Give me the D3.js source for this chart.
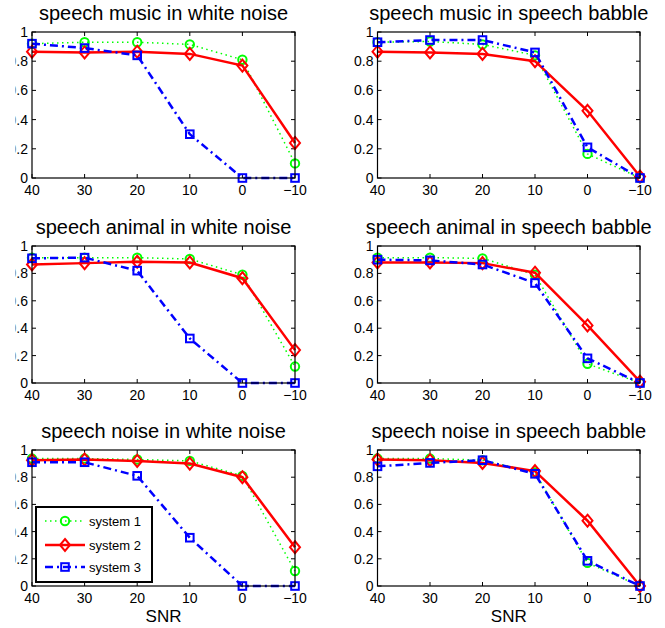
<!DOCTYPE html>
<html>
<head>
<meta charset="utf-8">
<script src="https://cdn.jsdelivr.net/npm/d3@7"></script>
<style>
  body { margin: 0; background: #fff; }
  svg { display: block; font-family: "Liberation Sans", Arial, sans-serif; }
</style>
</head>
<body>
<div id="chart"></div>
<script>
// x axis values (SNR), drawn from 40 down to -10
var snr = [40, 30, 20, 10, 0, -10];
var yTicks = [0, 0.2, 0.4, 0.6, 0.8, 1];
var titles = [
    "speech music in white noise", "speech music in speech babble",
    "speech animal in white noise", "speech animal in speech babble",
    "speech noise in white noise", "speech noise in speech babble"
];
var seriesNames = ["system 1", "system 2", "system 3"];

// one row per panel, same order as titles
var system1 = [
    [0.92, 0.93, 0.93, 0.915, 0.81, 0.10],
    [0.93, 0.935, 0.915, 0.84, 0.165, 0.0],
    [0.915, 0.915, 0.915, 0.905, 0.79, 0.12],
    [0.915, 0.915, 0.91, 0.79, 0.14, 0.0],
    [0.937, 0.937, 0.93, 0.92, 0.81, 0.11],
    [0.937, 0.937, 0.925, 0.835, 0.17, 0.0]
];
var system2 = [
    [0.865, 0.86, 0.865, 0.85, 0.77, 0.24],
    [0.865, 0.86, 0.85, 0.80, 0.46, 0.01],
    [0.865, 0.875, 0.885, 0.88, 0.765, 0.24],
    [0.88, 0.88, 0.875, 0.805, 0.42, 0.01],
    [0.925, 0.93, 0.92, 0.90, 0.80, 0.285],
    [0.93, 0.925, 0.905, 0.845, 0.48, 0.0]
];
var system3 = [
    [0.92, 0.89, 0.84, 0.30, 0.0, 0.0],
    [0.93, 0.945, 0.945, 0.86, 0.21, 0.0],
    [0.91, 0.915, 0.82, 0.325, 0.0, 0.0],
    [0.90, 0.895, 0.865, 0.73, 0.18, 0.0],
    [0.91, 0.91, 0.81, 0.355, 0.0, 0.0],
    [0.88, 0.905, 0.925, 0.825, 0.185, 0.0]
];

var width = 665, height = 628;
var cols = [[32, 295], [377.5, 640]];
var rows = [[32, 178], [246, 383], [450, 586]];

var styles = [
    { color: "#00ff00", dash: "1.5,3.5", width: 1.5, marker: "circle" },
    { color: "#ff0000", dash: null, width: 2.5, marker: "diamond" },
    { color: "#0000ff", dash: "8,4,2,4", width: 2.5, marker: "square" }
];

var svg = d3.select("#chart").append("svg")
    .attr("width", width)
    .attr("height", height);

// the figure was cropped on the left, so the first digit of the left labels is lost
svg.append("clipPath").attr("id", "leftcrop")
    .append("rect").attr("x", 15.5).attr("y", 0).attr("width", width).attr("height", height);

function drawMarker(g, type, x, y, color) {
    if (type == "circle") {
        g.append("circle").attr("cx", x).attr("cy", y).attr("r", 4.2)
            .attr("fill", "none").attr("stroke", color).attr("stroke-width", 2);
    } else if (type == "diamond") {
        g.append("path")
            .attr("d", "M" + x + "," + (y - 6) + "L" + (x + 5) + "," + y +
                "L" + x + "," + (y + 6) + "L" + (x - 5) + "," + y + "Z")
            .attr("fill", "none").attr("stroke", color).attr("stroke-width", 2);
    } else {
        g.append("rect").attr("x", x - 3.8).attr("y", y - 3.8)
            .attr("width", 7.6).attr("height", 7.6)
            .attr("fill", "none").attr("stroke", color).attr("stroke-width", 2);
    }
}

titles.forEach(function (title, p) {
    var c = cols[p % 2], r = rows[Math.floor(p / 2)];
    var x = d3.scaleLinear().domain([40, -10]).range(c);
    var y = d3.scaleLinear().domain([0, 1]).range([r[1], r[0]]);
    var g = svg.append("g");
    var yLab = g.append("g");
    if (p % 2 == 0) yLab.attr("clip-path", "url(#leftcrop)");

    // ticks inside the box, on all four sides
    snr.forEach(function (t) {
        g.append("line").attr("x1", x(t)).attr("x2", x(t))
            .attr("y1", r[1]).attr("y2", r[1] - 4).attr("stroke", "#000");
        g.append("line").attr("x1", x(t)).attr("x2", x(t))
            .attr("y1", r[0]).attr("y2", r[0] + 4).attr("stroke", "#000");
        g.append("text").attr("x", x(t)).attr("y", r[1] + 17)
            .attr("text-anchor", "middle").attr("font-size", 14)
            .text(t < 0 ? "\u2212" + Math.abs(t) : t);
    });
    yTicks.forEach(function (t) {
        g.append("line").attr("x1", c[0]).attr("x2", c[0] + 4)
            .attr("y1", y(t)).attr("y2", y(t)).attr("stroke", "#000");
        g.append("line").attr("x1", c[1]).attr("x2", c[1] - 4)
            .attr("y1", y(t)).attr("y2", y(t)).attr("stroke", "#000");
        yLab.append("text").attr("x", c[0] - 4).attr("y", y(t) + 5)
            .attr("text-anchor", "end").attr("font-size", 14)
            .text(t);
    });

    var all = [system1[p], system2[p], system3[p]];
    all.forEach(function (vals, s) {
        var st = styles[s];
        var pts = snr.map(function (v, i) { return [x(v), y(vals[i])]; });
        g.append("path").attr("d", d3.line()(pts))
            .attr("fill", "none").attr("stroke", st.color)
            .attr("stroke-width", st.width)
            .attr("stroke-dasharray", st.dash);
        pts.forEach(function (pt) { drawMarker(g, st.marker, pt[0], pt[1], st.color); });
    });

    g.append("rect").attr("x", c[0]).attr("y", r[0])
        .attr("width", c[1] - c[0]).attr("height", r[1] - r[0])
        .attr("fill", "none").attr("stroke", "#000").attr("stroke-width", 1.2);

    g.append("text").attr("x", (c[0] + c[1]) / 2).attr("y", r[0] - 12)
        .attr("text-anchor", "middle").attr("font-size", 20)
        .text(title);

    if (p >= 4) {
        g.append("text").attr("x", (c[0] + c[1]) / 2).attr("y", 622)
            .attr("text-anchor", "middle").attr("font-size", 17)
            .text("SNR");
    }
});

// legend in the bottom-left panel
var leg = svg.append("g");
leg.append("rect").attr("x", 36).attr("y", 507).attr("width", 116).attr("height", 75)
    .attr("fill", "#fff").attr("stroke", "#000").attr("stroke-width", 2);
var legY = [521, 545, 567];
seriesNames.forEach(function (name, s) {
    var st = styles[s];
    leg.append("line").attr("x1", 45).attr("x2", 85)
        .attr("y1", legY[s]).attr("y2", legY[s])
        .attr("stroke", st.color).attr("stroke-width", st.width)
        .attr("stroke-dasharray", st.dash);
    drawMarker(leg, st.marker, 65, legY[s], st.color);
    leg.append("text").attr("x", 89).attr("y", legY[s] + 4.5)
        .attr("font-size", 13).text(name);
});
</script>
</body>
</html>
